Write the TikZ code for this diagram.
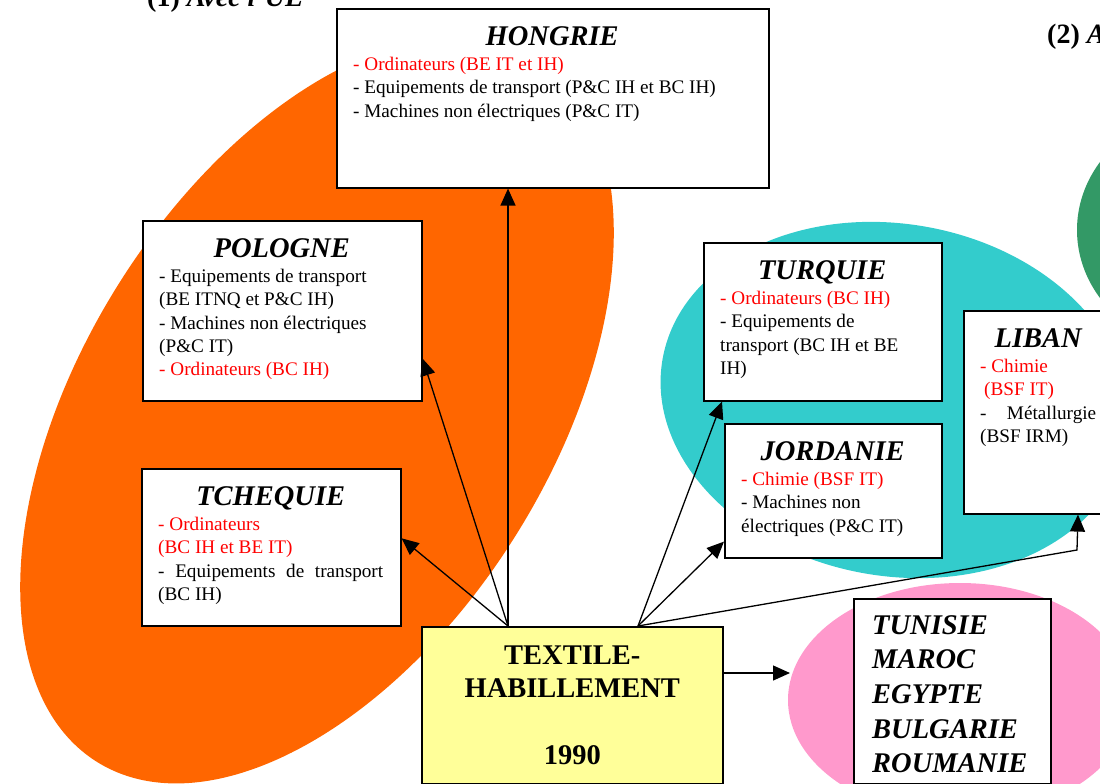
\documentclass[tikz,border=0pt]{standalone}
\usepackage{fontspec}
\setmainfont{Liberation Serif}
\usepackage{xcolor}
\usepackage{tikz}
\usetikzlibrary{calc,arrows.meta}
\definecolor{orangec}{HTML}{FF6600}
\definecolor{tealc}{HTML}{33CCCC}
\definecolor{vertc}{HTML}{339966}
\definecolor{rosec}{HTML}{FF99CC}
\definecolor{jaunec}{HTML}{FFFF99}
\definecolor{rougec}{HTML}{FF0000}
\setlength{\parindent}{0pt}
\tikzset{
  ar/.style={-{Triangle[length=17pt,width=15pt]},line width=1.3pt,black},
  box/.style={draw=black,line width=1.6pt,fill=white,anchor=north west,inner sep=0pt},
  txt/.style={anchor=north west,inner sep=0pt,align=flush left,font=\fontsize{19.2}{23.3}\selectfont}
}
\newcommand{\titre}{\fontsize{28.5}{30}\selectfont\bfseries\itshape}
\newcommand{\rouge}[1]{\textcolor{rougec}{#1}}
\newcommand{\pays}[6]{%
  \pgfmathsetmacro{\largtxt}{#4-34}
  \node[box,minimum width=#4pt,minimum height=#5pt] (#1) at (#2,#3) {};
  \node[txt,text width=\largtxt pt] (#1-t) at ([xshift=17pt,yshift=-18.7pt]#1.north west) {#6};
}

\begin{document}
\begin{tikzpicture}[x=1pt,y=-1pt]
\useasboundingbox (0,0) rectangle (1100,784);
\clip (0,0) rectangle (1100,784);
\fill[orangec,rotate around={58:(317,410)}] (317,410) ellipse [x radius=415,y radius=235];
\fill[tealc,rotate around={-10:(895,400)}] (895,400) ellipse [x radius=236,y radius=176];
\fill[vertc] (1220,230) ellipse [x radius=143,y radius=125];
\fill[rosec] (960,700) ellipse [x radius=172,y radius=117];

\node[anchor=base west,inner sep=0pt,font=\fontsize{28}{30}\selectfont\bfseries] (titre1) at (147,7) {(1) \textit{Avec l'UE}};
\node[anchor=base west,inner sep=0pt,font=\fontsize{28}{30}\selectfont\bfseries] (titre2) at (1047,44) {(2) \textit{Avec}};

\pays{hongrie}{336}{8}{432}{179}{%
  \makebox[\hsize]{\titre HONGRIE}\\[1.5pt]
  \rouge{- Ordinateurs (BE IT et IH)}\\
  - Equipements de transport (P\&C IH et BC IH)\\
  - Machines non électriques (P\&C IT)}
\pays{pologne}{142}{220}{279}{180}{%
  \makebox[\hsize]{\titre POLOGNE}\\[1.5pt]
  - Equipements de transport\\
  (BE ITNQ et P\&C IH)\\
  - Machines non électriques\\
  (P\&C IT)\\
  \rouge{- Ordinateurs (BC IH)}}
\pays{tchequie}{141}{468}{259}{157}{%
  \makebox[\hsize]{\titre TCHEQUIE}\\[1.5pt]
  \rouge{- Ordinateurs}\\
  \rouge{(BC IH et BE IT)}\\
  \makebox[\hsize]{-\hfill Equipements\hfill de\hfill transport}\\
  (BC IH)}
\pays{turquie}{703}{242}{238}{158}{%
  \makebox[\hsize]{\titre TURQUIE}\\[1.5pt]
  \rouge{- Ordinateurs (BC IH)}\\
  - Equipements de\\
  transport (BC IH et BE\\
  IH)}
\pays{jordanie}{724}{423}{217}{134}{%
  \makebox[\hsize]{\titre JORDANIE}\\[1.5pt]
  \rouge{- Chimie (BSF IT)}\\
  - Machines non\\
  électriques (P\&C IT)}
\pays{liban}{963}{310}{150}{203}{%
  \makebox[\hsize]{\titre LIBAN}\\[1.5pt]
  \rouge{- Chimie}\\
  \hspace*{4pt}\rouge{(BSF IT)}\\
  \makebox[\hsize]{-\hfill Métallurgie}\\
  (BSF IRM)}

\node[box,fill=jaunec,minimum width=301pt,minimum height=157pt,text width=301pt,align=center,
  font=\fontsize{28.5}{33.5}\selectfont\bfseries] (textile) at (421,626) {TEXTILE-\\HABILLEMENT\\[33.5pt]1990};
\node[box,minimum width=197pt,minimum height=185pt] (liste) at (853,598) {};
\node[txt,font=\fontsize{28.5}{34.7}\selectfont\bfseries\itshape] (liste-t) at ([xshift=19pt,yshift=-17pt]liste.north west)
  {TUNISIE\\MAROC\\EGYPTE\\BULGARIE\\ROUMANIE};

\coordinate (dep1) at ([xshift=87pt]textile.north west);
\coordinate (dep2) at ([xshift=217pt]textile.north west);
\coordinate (coude) at (1077,550);
\coordinate (rose-in) at (790,673);
\draw[ar] (dep1) -- (dep1 |- hongrie.south);
\draw[ar] (dep1) -- ([yshift=43pt]pologne.south east);
\draw[ar] (dep1) -- ([yshift=9pt]tchequie.east);
\draw[ar] (dep2) -- ([xshift=19pt]turquie.south west);
\draw[ar] (dep2) -- ([yshift=17pt]jordanie.south west);
\draw[ar] (dep2) -- (coude) -- ([xshift=115pt]liban.south west);
\draw[ar] (textile.east |- rose-in) -- (rose-in);
\end{tikzpicture}
\end{document}
